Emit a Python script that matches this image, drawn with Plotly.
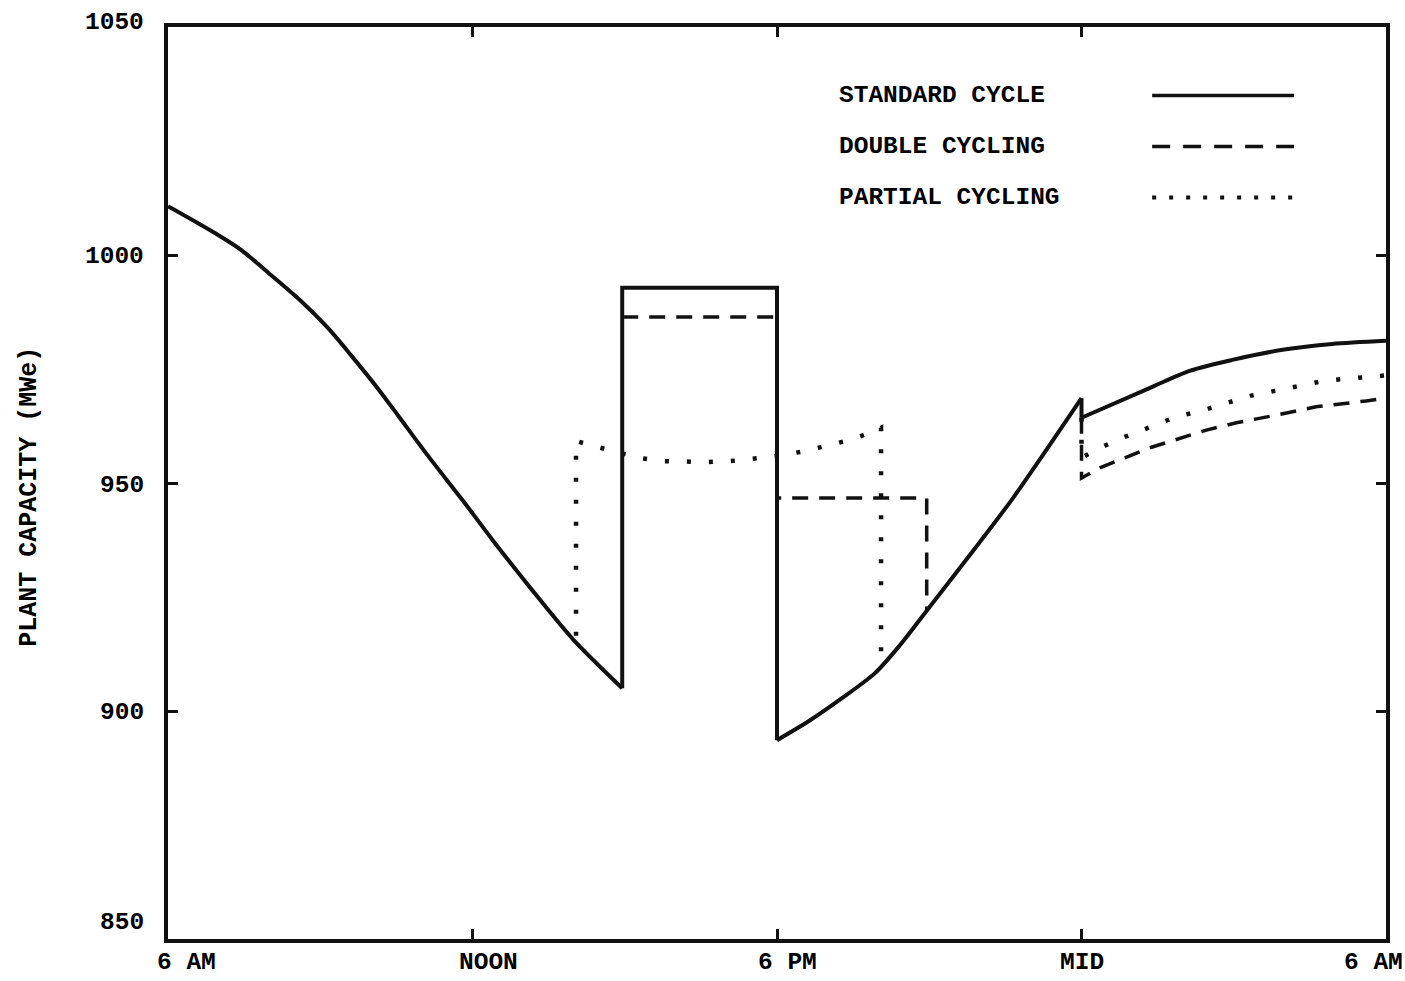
import plotly.graph_objects as go

# Hours after 6 AM, plant capacity in MWe
STD_H = [0.0, 0.85, 1.44, 2.03, 2.62, 3.15, 3.60, 4.13, 4.54, 5.12, 5.82, 6.41, 7.14, 7.99, 8.95,
         8.95, 12.0, 12.0, 12.63, 13.28, 13.93, 14.42, 14.95, 15.8, 16.65, 18.0,
         18.0, 19.34, 20.13, 20.97, 21.96, 22.94, 24.0]
STD_V = [1010.7, 1005.3, 1001.1, 995.6, 989.9, 984.0, 978.1, 970.8, 964.7, 956.0, 946.0, 937.3, 927.0, 915.6, 905.0,
         992.8, 992.8, 893.6, 897.8, 902.8, 908.3, 914.4, 922.0, 934.2, 946.7, 968.6,
         964.3, 970.8, 974.6, 977.0, 979.2, 980.5, 981.2]

# Double cycling departs from the standard cycle in these stretches
DBL_H = [8.95, 12.0, 12.0, 14.95, 14.95, None,
         18.0, 18.0, 18.36, 19.34, 20.46, 21.05, 21.84, 22.62, 23.61, 24.0]
DBL_V = [986.4, 986.4, 946.7, 946.7, 922.0, None,
         964.3, 951.1, 953.3, 957.7, 961.6, 963.2, 964.9, 966.7, 968.0, 968.6]

# Partial cycling departs from the standard cycle in these stretches
PRT_H = [8.04, 8.04, 8.46, 8.85, 9.29, 9.74, 10.15, 10.62, 11.08, 11.53, 12.0, 12.55, 13.0, 13.49, 13.87, 14.05, 14.05, None,
         18.0, 18.0, 18.36, 18.85, 19.36, 19.86, 20.35, 20.86, 21.32, 21.81, 22.3, 22.77, 23.16, 23.55, 24.0]
PRT_V = [916.5, 959.2, 957.9, 956.8, 955.5, 954.8, 954.6, 954.6, 954.8, 955.3, 955.9, 957.0, 958.3, 959.6, 961.2, 962.1, 912.0, None,
         964.3, 955.5, 957.7, 960.1, 962.3, 964.5, 965.8, 967.5, 969.1, 970.2, 971.3, 972.4, 972.8, 973.2, 973.6]

X_TICKS = [0, 6, 12, 18, 24]
X_LABELS = ["6 AM", "NOON", "6 PM", "MID", "6 AM"]
Y_TICKS = [850, 900, 950, 1000, 1050]
Y_LABELS = ["850", "900", "950", "1000", "1050"]

SERIES = ["STANDARD CYCLE", "DOUBLE CYCLING", "PARTIAL CYCLING"]

FONT = dict(family="Liberation Mono, DejaVu Sans Mono, monospace", size=24.5, color="black", weight="bold")
INK = "#111111"

fig = go.Figure()
fig.add_trace(go.Scatter(x=PRT_H, y=PRT_V, mode="lines", name=SERIES[2],
                         line=dict(color=INK, width=4.5, dash="4px,18px")))
fig.add_trace(go.Scatter(x=DBL_H, y=DBL_V, mode="lines", name=SERIES[1],
                         line=dict(color=INK, width=3.5, dash="16px,11px")))

# Standard cycle: smooth curved stretches joined by straight step changes
pieces = [(0, 14, "spline"), (14, 17, "linear"), (17, 25, "spline"), (25, 26, "linear"), (26, 32, "spline")]
for a, b, shape in pieces:
    fig.add_trace(go.Scatter(x=STD_H[a:b + 1], y=STD_V[a:b + 1], mode="lines", name=SERIES[0],
                             line=dict(color=INK, width=4, shape=shape, smoothing=0.8)))

axis_common = dict(showgrid=False, zeroline=False, showline=True, linecolor=INK, linewidth=4,
                   mirror="ticks", ticks="inside", ticklen=10, tickwidth=3, tickcolor=INK,
                   showticklabels=False)
fig.update_xaxes(range=[0, 24], tickvals=X_TICKS[1:-1], **axis_common)
fig.update_yaxes(range=[850, 1050], tickvals=Y_TICKS[1:-1], **axis_common)

# Tick labels
x_shift = [18, 16, 10, 0, -13]
for v, lab, dx in zip(X_TICKS, X_LABELS, x_shift):
    fig.add_annotation(x=v, y=0, xref="x", yref="paper", text=lab, showarrow=False,
                       xanchor="center", yanchor="top", xshift=dx, yshift=-8, font=FONT)
y_shift = [17, -1, -2, -1, 5]
for v, lab, dy in zip(Y_TICKS, Y_LABELS, y_shift):
    fig.add_annotation(x=0, y=v, xref="paper", yref="y", text=lab, showarrow=False,
                       xanchor="right", yanchor="middle", xshift=-22, yshift=dy, font=FONT)

fig.add_annotation(x=-0.1133, y=0.485, xref="paper", yref="paper", text="PLANT CAPACITY (MWe)",
                   showarrow=False, textangle=-90, xanchor="center", yanchor="middle",
                   font=dict(FONT, size=25))

# Legend: label on the left, line sample on the right
legend_y = [0.925, 0.869, 0.813]
legend_dash = ["solid", "18px,13px", "4px,13px"]
legend_w = [3.5, 3.5, 4]
for name, yy, dash, w in zip(SERIES, legend_y, legend_dash, legend_w):
    fig.add_annotation(x=0.5493, y=yy, xref="paper", yref="paper", text=name, showarrow=False,
                       xanchor="left", yanchor="middle", font=FONT)
    fig.add_shape(type="line", xref="paper", yref="paper", x0=0.808, x1=0.9245, y0=yy, y1=yy,
                  line=dict(color=INK, width=w, dash=dash))

fig.update_layout(width=1405, height=981, showlegend=False,
                  margin=dict(l=168, r=19, t=27, b=42),
                  paper_bgcolor="white", plot_bgcolor="white")

fig.write_html("out.html")
